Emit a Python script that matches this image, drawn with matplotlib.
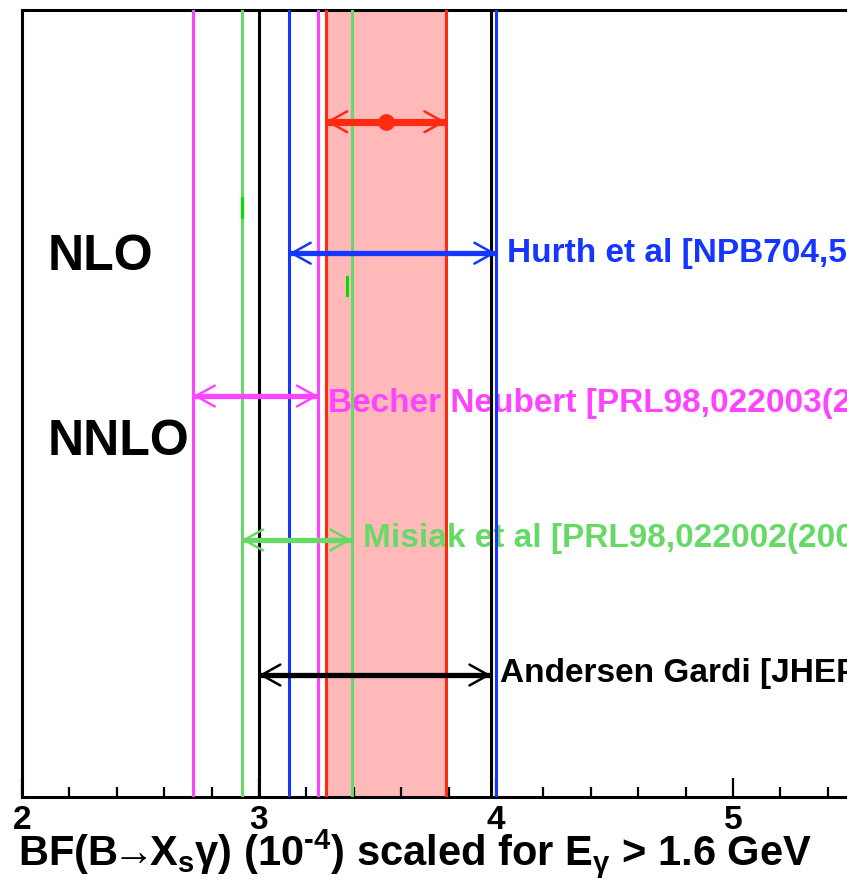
import matplotlib
matplotlib.use("Agg")
import matplotlib.pyplot as plt
from matplotlib.ticker import MultipleLocator

plt.rcParams["font.family"] = ["Liberation Sans", "DejaVu Sans"]
plt.rcParams["font.weight"] = "bold"
plt.rcParams["mathtext.fontset"] = "custom"
plt.rcParams["mathtext.rm"] = "Liberation Sans:bold"
plt.rcParams["mathtext.it"] = "Liberation Sans:bold"
plt.rcParams["mathtext.bf"] = "Liberation Sans:bold"

# measurement (10^-4)
meas_val = 3.534
meas_lo = 3.282
meas_hi = 3.788

# theory predictions
names = ["Hurth et al [NPB704,56(2005)]",
         "Becher Neubert [PRL98,022003(2007)]",
         "Misiak et al [PRL98,022002(2007)]",
         "Andersen Gardi [JHEP0601,097(2006)]"]
pred_lo = [3.128, 2.723, 2.927, 3.000]
pred_hi = [3.999, 3.250, 3.391, 3.978]
colors = ["#1436ff", "#ff44ff", "#66d966", "#000000"]

# small green ticks
mark_x = [2.927, 3.370]
mark_y0 = [0.737, 0.638]
mark_y1 = [0.761, 0.661]

# layout rows (axes fraction)
rows = [0.691, 0.5095, 0.3266, 0.155]
meas_row = 0.858

fig = plt.figure(figsize=(8.47, 8.85), dpi=100)
ax = fig.add_axes([22 / 847, 88 / 885, 948 / 847, 787 / 885])
ax.set_xlim(2, 6)
ax.set_ylim(0, 1)

# measurement band
ax.axvspan(meas_lo, meas_hi, color="#ffb9b9", lw=0, zorder=1)
for v in (meas_lo, meas_hi):
    ax.axvline(v, color="#ff2a10", lw=2.2, zorder=3)


def arrow(lo, hi, y, color, lw, zorder=4):
    ax.plot([lo, hi], [y, y], color=color, lw=lw, solid_capstyle="butt", zorder=zorder)
    ax.annotate("", xy=(hi, y), xytext=(lo, y),
                arrowprops=dict(arrowstyle="<->,head_length=1.35,head_width=0.75",
                                color=color, lw=1.8, shrinkA=0, shrinkB=0),
                zorder=zorder)


for name, lo, hi, c, y in zip(names, pred_lo, pred_hi, colors, rows):
    ax.axvline(lo, color=c, lw=2.2, zorder=3)
    ax.axvline(hi, color=c, lw=2.2, zorder=3)
    arrow(lo, hi, y, c, 3.8)

text_x = [4.046, 3.291, 3.439, 4.017]
text_y = [0.680, 0.489, 0.318, 0.146]
for name, c, tx, ty in zip(names, colors, text_x, text_y):
    ax.text(tx, ty, name, color=c, fontsize=24, fontweight="bold",
            va="baseline", ha="left", zorder=2)

arrow(meas_lo, meas_hi, meas_row, "#ff2a10", 5.2, zorder=5)
ax.plot([meas_val], [meas_row], "o", color="#ff2a10", ms=11, zorder=6)

for x, y0, y1 in zip(mark_x, mark_y0, mark_y1):
    ax.plot([x, x], [y0, y1], color="#00e000", lw=2.2, zorder=4)

ax.text(2.11, 0.670, "NLO", fontsize=36, fontweight="bold", va="baseline")
ax.text(2.11, 0.4346, "NNLO", fontsize=36, fontweight="bold", va="baseline")

ax.set_yticks([])
ax.xaxis.set_major_locator(MultipleLocator(1))
ax.xaxis.set_minor_locator(MultipleLocator(0.2))
ax.tick_params(axis="x", which="major", direction="in", length=14, width=1.6,
               labelsize=24, pad=6)
ax.tick_params(axis="x", which="minor", direction="in", length=7, width=1.6)
for lab in ax.get_xticklabels():
    lab.set_fontweight("bold")
for s in ax.spines.values():
    s.set_linewidth(2.2)

fig.text(18 / 847, 20 / 885,
         r"BF(B$\!\!\rightarrow\!\!$X$_\mathregular{s}$γ) (10$^\mathregular{\text{-4}}$) scaled for E$_\mathregular{γ}$ > 1.6 GeV",
         fontsize=30, fontweight="bold", va="baseline", ha="left")

fig.savefig("out.png", dpi=100)
